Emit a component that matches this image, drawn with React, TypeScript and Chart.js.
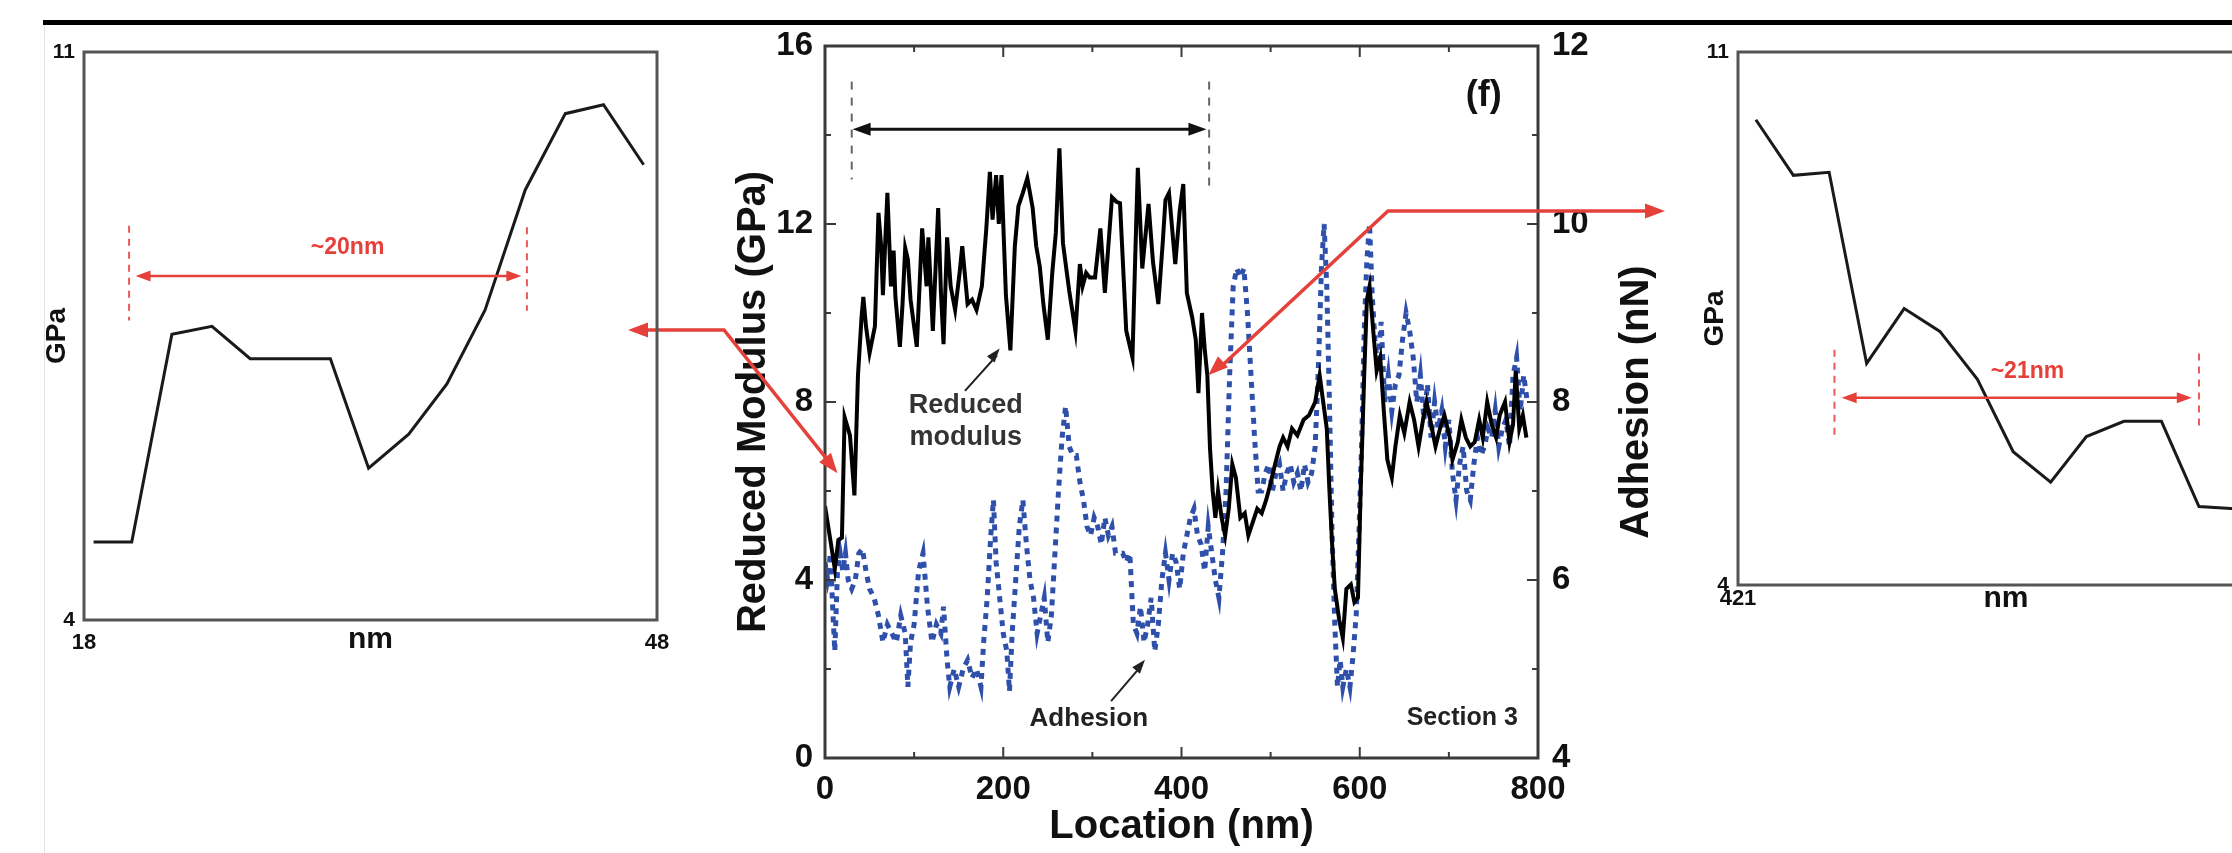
import React, { useEffect, useRef } from 'react';
import { Chart, registerables } from 'chart.js';

Chart.register(...registerables);

const FONT = '"Liberation Sans", Arial, Helvetica, sans-serif';
Chart.defaults.font.family = FONT;

// ---------------- Main chart data (Section 3) ----------------
const modulusX = [
  0, 6, 11, 15, 19, 22, 28, 33, 37, 41,
  43, 46, 50, 56, 60, 63, 65, 70, 74, 77,
  79, 84, 87, 90, 93, 96, 103, 109, 114, 116,
  121, 127, 130, 133, 137, 141, 146, 151, 154, 160,
  165, 170, 176, 181, 185, 188, 192, 195, 198, 203,
  208, 213, 217, 222, 227, 233, 237, 241, 245, 250,
  255, 259, 263, 267, 274, 281, 286, 289, 293, 297,
  303, 309, 314, 322, 327, 331, 338, 345, 348, 351,
  356, 363, 368, 374, 379, 382, 386, 393, 398, 402,
  406, 412, 416, 419, 423, 426, 429, 432, 435, 438,
  441, 445, 449, 453, 457, 461, 466,
  471, 475, 480, 485, 490, 495, 499, 505, 510, 514,
  519, 524, 530, 537, 543, 550, 555, 559, 563, 566,
  569, 572, 577, 581, 585, 590, 594, 598, 601, 605,
  608, 611, 616, 619, 623, 627, 631, 636, 640, 645,
  650, 656, 661, 666, 671, 675, 680, 685, 690, 695,
  701, 704, 710, 714, 719, 724, 729, 734, 738, 743,
  748, 753, 757, 763, 768, 772, 775, 779, 783, 787,
];
const modulusGPa = [
  5.66, 4.9, 4.25, 4.9, 4.95, 7.66, 7.25, 5.9, 8.6, 9.9,
  10.36, 9.7, 9.1, 9.7, 12.25, 11.5, 10.4, 12.7, 10.6, 11.4,
  10.36, 9.24, 10.2, 11.46, 11.2, 10.3, 9.24, 11.9, 10.6, 11.7,
  9.6, 12.36, 10.5, 9.3, 11.7, 10.6, 10.07, 10.9, 11.5, 10.2,
  10.3, 10.07, 10.6, 11.9, 13.17, 12.1, 13.1, 12.0, 13.1, 10.4,
  9.16, 11.5, 12.4, 12.7, 13.03, 12.36, 11.5, 11.04, 10.2, 9.4,
  10.9, 11.8, 13.7, 11.57, 10.5, 9.6, 11.1, 10.6, 10.9, 10.8,
  10.8, 11.9, 10.45, 12.6, 12.5, 12.47, 9.6, 9.0, 11.2, 13.26,
  11.0, 12.45, 11.15, 10.2, 11.6, 12.54, 12.7, 11.1, 12.3, 12.9,
  10.45, 9.9, 9.4, 8.2, 10.0, 9.2, 8.6, 6.95, 6.0, 5.4,
  6.0, 5.4, 5.0, 5.6, 6.6, 6.3, 5.4,
  5.5, 5.0, 5.3, 5.6, 5.5, 5.8, 6.1, 6.6, 7.0, 7.2,
  7.0, 7.4, 7.25, 7.6, 7.7, 8.0, 8.6, 8.0, 7.4, 6.0,
  4.8, 3.8, 3.1, 2.7, 3.8, 3.9, 3.5, 3.6, 6.0, 8.6,
  10.3, 10.6, 9.4, 8.7, 9.0, 7.8, 6.7, 6.3, 7.0, 7.7,
  7.3, 8.0, 7.6, 7.0, 7.6, 8.0, 7.5, 7.0, 7.4, 7.7,
  7.2, 6.7, 7.1, 7.6, 7.2, 7.0, 7.1, 7.6, 7.2, 8.0,
  7.5, 7.2, 7.7, 8.0, 7.1, 7.5, 8.7, 7.4, 7.7, 7.2,
];

const adhesionX = [
  0, 3, 6, 9, 11, 14, 17, 20, 23, 26,
  30, 34, 38, 42, 46, 50,
  55, 60, 65, 70, 75, 80,
  85, 90, 93, 96,
  100, 105, 110, 115, 120,
  125, 130, 133, 137, 140,
  145, 150, 155, 160, 165, 170, 175,
  178, 182, 186, 189, 192,
  196, 200, 204, 207, 210,
  214, 218, 222, 226, 230,
  234, 238, 242, 246, 250,
  254, 258, 262, 266, 270,
  274, 278, 282, 286, 290,
  294, 298, 302, 306, 310, 314, 318, 322,
  326, 330, 334, 338, 342,
  346, 350, 354, 358, 362, 366, 370, 374, 378,
  382, 386, 390, 394, 398, 402, 406, 410,
  414, 418, 422, 426, 430, 434, 438, 442,
  446, 450, 454, 458, 462,
  466, 470, 474, 478, 482, 486,
  490, 494, 498, 502, 506, 510, 514, 518, 522, 526, 530, 534, 538, 542, 546,
  550, 554, 557, 560, 563, 566, 569,
  572, 575, 578, 581, 585, 589, 592, 596, 599,
  602, 605, 608, 611, 614,
  617, 620, 624, 628, 632, 636, 640,
  644, 648, 652, 656, 660,
  664, 668, 672, 676, 680, 684, 688, 692, 696, 700,
  704, 708, 712, 716, 720, 724, 728, 732, 736, 740, 744,
  748, 752, 756, 760, 764, 768, 772, 776, 780, 784, 788,
];
const adhesionNN = [
  6.2, 6.0, 6.3, 5.6, 5.2, 6.1, 6.3, 6.1, 6.3, 6.0,
  5.9, 6.0, 6.3, 6.35, 6.1, 5.9,
  5.8, 5.6, 5.3, 5.5, 5.4, 5.3,
  5.6, 5.4, 4.8, 5.3,
  5.5, 6.1, 6.3, 5.7, 5.3,
  5.5, 5.4, 5.7, 5.1, 4.8,
  5.0, 4.8, 5.0, 5.1, 4.9, 5.0, 4.8,
  5.3, 5.8, 6.5, 6.9, 6.2,
  5.8, 5.4, 5.2, 4.75, 5.4,
  6.0, 6.6, 6.9, 6.4, 6.0,
  5.8, 5.4, 5.6, 5.8, 5.3,
  5.6, 6.3, 7.0, 7.6, 7.95,
  7.5, 7.4, 7.4, 7.1, 6.9,
  6.6, 6.5, 6.7, 6.6, 6.4, 6.7, 6.5, 6.6,
  6.3, 6.3, 6.3, 6.2, 6.3,
  5.5, 5.4, 5.7, 5.3, 5.5, 5.8, 5.2, 5.5, 6.0,
  6.3, 6.0, 6.3, 6.2, 5.9, 6.3, 6.5, 6.7,
  6.8, 6.5, 6.4, 6.1, 6.6, 6.3, 6.0, 5.8,
  6.3, 7.0, 8.3, 9.3, 9.5,
  9.4, 9.5, 9.0, 8.3, 7.6, 7.0,
  7.0, 7.2, 7.3, 7.0, 7.2, 7.3, 7.0, 7.2, 7.3, 7.1, 7.2, 7.0, 7.3, 7.1, 7.2,
  7.5, 8.5, 9.5, 10.0, 9.3, 8.0, 6.5,
  5.5, 4.8, 5.1, 4.8, 5.0, 4.8, 5.1, 5.6, 6.5,
  7.5, 8.8, 9.6, 10.0, 9.2,
  8.7, 8.4, 8.9, 8.0, 8.3, 7.9, 8.2,
  8.3, 8.7, 9.0, 8.8, 8.5,
  8.0, 8.3, 7.8, 8.2, 7.6, 8.0, 7.7, 7.9, 7.5, 7.8,
  7.2, 6.9, 7.3, 7.5, 7.0, 6.9, 7.3, 7.6, 7.4, 7.5, 7.7,
  7.6, 7.9, 7.5, 7.7, 7.8, 7.5, 8.3, 8.5, 7.9, 8.3, 8.0,
];

const xMajorTicks = [0, 200, 400, 600, 800];
const xMinorTicks = [100, 300, 500, 700];
const yMajorTicks = [0, 4, 8, 12, 16];
const yMinorTicks = [2, 6, 10, 14];
const y1MajorTicks = [4, 6, 8, 10, 12];
const y1MinorTicks = [5, 7, 9, 11];

// ---------------- Inset data ----------------
const leftInsetNm = [18.5, 20.5, 22.6, 24.7, 26.7, 28.8, 30.9, 32.9, 35.0, 37.0, 39.0, 41.1, 43.2, 45.2, 47.3];
const leftInsetGPa = [4.96, 4.96, 7.52, 7.62, 7.22, 7.22, 7.22, 5.87, 6.29, 6.91, 7.82, 9.30, 10.24, 10.35, 9.61];
const leftInsetTicksX = [18, 48];
const insetTicksY = [4, 11];

const rightInsetNm = [422.0, 424.1, 426.1, 428.2, 430.3, 432.3, 434.4, 436.4, 438.5, 440.5, 442.6, 444.7, 446.8, 448.8, 450.9];
const rightInsetGPa = [10.11, 9.38, 9.42, 6.91, 7.63, 7.33, 6.70, 5.75, 5.35, 5.95, 6.15, 6.15, 5.03, 5.0, 5.0];
const rightInsetTicksX = [421, 451];

// ---------------- Annotations ----------------
const RED = '#e5403a';
const leftSpan = { x1: 20.36, y1a: 7.69, y1b: 8.86, x2: 41.19, y2a: 7.81, y2b: 8.84, arrowY: 8.24, from: 20.7, to: 40.9, label: '~20nm', lx: 31.8, ly: 8.59 };
const rightSpan = { x1: 426.4, y1a: 5.91, y1b: 7.09, x2: 446.8, y2a: 6.02, y2b: 7.04, arrowY: 6.46, from: 426.8, to: 446.4, label: '~21nm', lx: 437.2, ly: 6.8 };

function arrowHead(ctx: CanvasRenderingContext2D, fx: number, fy: number, tx: number, ty: number, len: number, wid: number, color: string) {
  const a = Math.atan2(ty - fy, tx - fx);
  const bx = tx - len * Math.cos(a);
  const by = ty - len * Math.sin(a);
  ctx.save();
  ctx.fillStyle = color;
  ctx.beginPath();
  ctx.moveTo(tx, ty);
  ctx.lineTo(bx + (wid / 2) * Math.sin(a), by - (wid / 2) * Math.cos(a));
  ctx.lineTo(bx - (wid / 2) * Math.sin(a), by + (wid / 2) * Math.cos(a));
  ctx.closePath();
  ctx.fill();
  ctx.restore();
}

function segment(ctx: CanvasRenderingContext2D, pts: number[][], color: string, width: number, dash: number[] = []) {
  ctx.save();
  ctx.strokeStyle = color;
  ctx.lineWidth = width;
  ctx.setLineDash(dash);
  ctx.lineJoin = 'miter';
  ctx.beginPath();
  ctx.moveTo(pts[0][0], pts[0][1]);
  for (let i = 1; i < pts.length; i++) ctx.lineTo(pts[i][0], pts[i][1]);
  ctx.stroke();
  ctx.restore();
}

function text(ctx: CanvasRenderingContext2D, s: string, x: number, y: number, size: number, color: string, align: CanvasTextAlign = 'center', rot = 0) {
  ctx.save();
  ctx.font = `bold ${size}px ${FONT}`;
  ctx.fillStyle = color;
  ctx.textAlign = align;
  ctx.textBaseline = 'middle';
  ctx.translate(x, y);
  if (rot) ctx.rotate(rot);
  ctx.fillText(s, 0, 0);
  ctx.restore();
}

const mainDecor = {
  id: 'mainDecor',
  beforeDraw(chart: any) {
    const { ctx, width, height } = chart;
    ctx.save();
    ctx.fillStyle = '#ffffff';
    ctx.fillRect(0, 0, width, height);
    ctx.fillStyle = '#e4e4e4';
    ctx.fillRect(44, 25, 1, height - 25);
    ctx.fillStyle = '#000000';
    ctx.fillRect(43, 20, width - 43, 5);
    ctx.restore();
  },
  afterDatasetsDraw(chart: any) {
    const { ctx, chartArea: a, scales } = chart;
    const sx = scales.x, sy = scales.y, sy1 = scales.y1;
    ctx.save();
    ctx.strokeStyle = '#3a3a3a';
    ctx.lineWidth = 3;
    ctx.strokeRect(a.left, a.top, a.right - a.left, a.bottom - a.top);
    ctx.lineWidth = 2;
    ctx.beginPath();
    const tick = (v: number, len: number) => {
      const p = sx.getPixelForValue(v);
      ctx.moveTo(p, a.bottom); ctx.lineTo(p, a.bottom - len);
      ctx.moveTo(p, a.top); ctx.lineTo(p, a.top + len);
    };
    xMajorTicks.forEach(v => tick(v, 11));
    xMinorTicks.forEach(v => tick(v, 6));
    yMajorTicks.forEach(v => { const p = sy.getPixelForValue(v); ctx.moveTo(a.left, p); ctx.lineTo(a.left + 11, p); });
    yMinorTicks.forEach(v => { const p = sy.getPixelForValue(v); ctx.moveTo(a.left, p); ctx.lineTo(a.left + 6, p); });
    y1MajorTicks.forEach(v => { const p = sy1.getPixelForValue(v); ctx.moveTo(a.right, p); ctx.lineTo(a.right - 11, p); });
    y1MinorTicks.forEach(v => { const p = sy1.getPixelForValue(v); ctx.moveTo(a.right, p); ctx.lineTo(a.right - 6, p); });
    ctx.stroke();
    ctx.restore();

    const X = (v: number) => sx.getPixelForValue(v);
    const Y = (v: number) => sy.getPixelForValue(v);

    // dashed span markers and double arrow
    segment(ctx, [[X(30), Y(15.2)], [X(30), Y(13.0)]], '#666', 2, [8, 8]);
    segment(ctx, [[X(431), Y(15.2)], [X(431), Y(12.8)]], '#666', 2, [8, 8]);
    segment(ctx, [[X(31) + 12, Y(14.13)], [X(428) - 12, Y(14.13)]], '#111', 3);
    arrowHead(ctx, X(200), Y(14.13), X(31), Y(14.13), 18, 13, '#111');
    arrowHead(ctx, X(200), Y(14.13), X(428), Y(14.13), 18, 13, '#111');

    text(ctx, '(f)', X(739), Y(14.88), 36, '#111');
    text(ctx, 'Reduced', X(158), Y(7.91), 27, '#333');
    text(ctx, 'modulus', X(158), Y(7.19), 27, '#333');
    segment(ctx, [[X(157), Y(8.25)], [X(193), Y(9.05)]], '#222', 2);
    arrowHead(ctx, X(157), Y(8.25), X(196), Y(9.2), 14, 10, '#222');
    text(ctx, 'Adhesion', X(296), Y(0.88), 26, '#222');
    segment(ctx, [[X(321), Y(1.28)], [X(356), Y(2.1)]], '#222', 2);
    arrowHead(ctx, X(321), Y(1.28), X(359), Y(2.21), 14, 10, '#222');
    text(ctx, 'Section 3', X(715), Y(0.9), 25, '#222');

    // right axis title (reads bottom-to-top)
    text(ctx, 'Adhesion (nN)', 1637, (a.top + a.bottom) / 2, 40, '#111', 'center', -Math.PI / 2);
  },
  afterDraw(chart: any) {
    const { ctx, scales } = chart;
    const X = (v: number) => scales.x.getPixelForValue(v);
    const Y = (v: number) => scales.y.getPixelForValue(v);
    // connector to left inset
    const l2 = [X(14), Y(6.4)];
    segment(ctx, [[645, 330], [724, 330], [l2[0] - 9, l2[1] - 12]], RED, 3.5);
    arrowHead(ctx, 724, 330, 628, 330, 20, 15, RED);
    arrowHead(ctx, 724, 330, l2[0], l2[1], 20, 15, RED);
    // connector to right inset
    const r0 = [X(430), Y(8.6)];
    segment(ctx, [[r0[0] + 12, r0[1] - 8], [1388, 211], [1648, 211]], RED, 3.5);
    arrowHead(ctx, 1388, 211, r0[0], r0[1], 20, 15, RED);
    arrowHead(ctx, 1388, 211, 1665, 211, 20, 15, RED);
  },
};

function insetDecor(span: typeof leftSpan) {
  return {
    id: 'insetDecor',
    afterDatasetsDraw(chart: any) {
      const { ctx, chartArea: a, scales } = chart;
      const X = (v: number) => scales.x.getPixelForValue(v);
      const Y = (v: number) => scales.y.getPixelForValue(v);
      ctx.save();
      ctx.strokeStyle = '#555';
      ctx.lineWidth = 3;
      ctx.strokeRect(a.left, a.top, a.right - a.left, a.bottom - a.top);
      ctx.restore();
      segment(ctx, [[X(span.x1), Y(span.y1b)], [X(span.x1), Y(span.y1a)]], '#ea5a5a', 2, [7, 6]);
      segment(ctx, [[X(span.x2), Y(span.y2b)], [X(span.x2), Y(span.y2a)]], '#ea5a5a', 2, [7, 6]);
      segment(ctx, [[X(span.from) + 10, Y(span.arrowY)], [X(span.to) - 10, Y(span.arrowY)]], RED, 2.5);
      const mid = (X(span.from) + X(span.to)) / 2;
      arrowHead(ctx, mid, Y(span.arrowY), X(span.from), Y(span.arrowY), 15, 11, RED);
      arrowHead(ctx, mid, Y(span.arrowY), X(span.to), Y(span.arrowY), 15, 11, RED);
      text(ctx, span.label, X(span.lx), Y(span.ly), 23, RED);
    },
  };
}

function insetConfig(nm: number[], gpa: number[], xMin: number, xMax: number, xTicks: number[], span: typeof leftSpan, pad: any, xPad: number, titleXPad: number, yWidth: number, yTitlePad: number) {
  return {
    type: 'line' as const,
    data: {
      datasets: [{
        data: nm.map((x, i) => ({ x, y: gpa[i] })),
        borderColor: '#1a1a1a',
        borderWidth: 3,
        pointRadius: 0,
        tension: 0,
      }],
    },
    options: {
      responsive: false,
      animation: false as const,
      devicePixelRatio: 1,
      layout: { padding: pad },
      plugins: { legend: { display: false }, tooltip: { enabled: false } },
      scales: {
        x: {
          type: 'linear' as const, min: xMin, max: xMax,
          afterFit: (s: any) => { s.height = 45; },
          afterBuildTicks: (s: any) => { s.ticks = xTicks.map(value => ({ value })); },
          grid: { display: false, drawTicks: false },
          border: { display: false },
          ticks: { padding: xPad, color: '#111', font: { size: 22, weight: 'bold' as const }, maxRotation: 0, callback: (v: any) => String(v) },
          title: { display: true, text: 'nm', color: '#111', font: { size: 30, weight: 'bold' as const }, padding: { top: 0, bottom: titleXPad } },
        },
        y: {
          type: 'linear' as const, min: 4, max: 11,
          afterFit: (s: any) => { s.width = yWidth; },
          afterBuildTicks: (s: any) => { s.ticks = insetTicksY.map(value => ({ value })); },
          grid: { display: false, drawTicks: false },
          border: { display: false },
          ticks: { padding: 9, color: '#111', font: { size: 21, weight: 'bold' as const } },
          title: { display: true, text: 'GPa', color: '#111', font: { size: 28, weight: 'bold' as const }, padding: { top: yTitlePad, bottom: 0 } },
        },
      },
    },
    plugins: [insetDecor(span)],
  };
}

function mainConfig() {
  return {
    type: 'line' as const,
    data: {
      datasets: [
        {
          label: 'Reduced modulus',
          data: modulusX.map((x, i) => ({ x, y: modulusGPa[i] })),
          borderColor: '#000000',
          borderWidth: 4,
          pointRadius: 0,
          tension: 0,
          yAxisID: 'y',
        },
        {
          label: 'Adhesion',
          data: adhesionX.map((x, i) => ({ x, y: adhesionNN[i] })),
          borderColor: '#2f50aa',
          borderWidth: 5,
          borderDash: [6, 6],
          pointRadius: 0,
          tension: 0,
          yAxisID: 'y1',
        },
      ],
    },
    options: {
      responsive: false,
      animation: false as const,
      devicePixelRatio: 1,
      layout: { padding: { left: 700, right: 532, top: 46, bottom: 0 } },
      plugins: { legend: { display: false }, tooltip: { enabled: false } },
      scales: {
        x: {
          type: 'linear' as const, min: 0, max: 800,
          afterFit: (s: any) => { s.height = 95; },
          grid: { display: false, drawTicks: false },
          border: { display: false },
          ticks: { stepSize: 200, padding: 12, color: '#111', font: { size: 33, weight: 'bold' as const }, maxRotation: 0 },
          title: { display: true, text: 'Location (nm)', color: '#111', font: { size: 40, weight: 'bold' as const }, padding: { top: 0, bottom: 2 } },
        },
        y: {
          type: 'linear' as const, position: 'left' as const, min: 0, max: 16,
          afterFit: (s: any) => { s.width = 125; },
          grid: { display: false, drawTicks: false },
          border: { display: false },
          ticks: { stepSize: 4, padding: 12, color: '#111', font: { size: 33, weight: 'bold' as const } },
          title: { display: true, text: 'Reduced Modulus (GPa)', color: '#111', font: { size: 40, weight: 'bold' as const }, padding: { top: 30, bottom: 0 } },
        },
        y1: {
          type: 'linear' as const, position: 'right' as const, min: 4, max: 12,
          afterFit: (s: any) => { s.width = 162; },
          grid: { display: false, drawTicks: false },
          border: { display: false },
          ticks: { stepSize: 2, padding: 14, color: '#111', font: { size: 33, weight: 'bold' as const } },
          title: { display: false, text: 'Adhesion (nN)' },
        },
      },
    },
    plugins: [mainDecor],
  };
}

export default function App() {
  const mainRef = useRef<HTMLCanvasElement>(null);
  const leftRef = useRef<HTMLCanvasElement>(null);
  const rightRef = useRef<HTMLCanvasElement>(null);

  useEffect(() => {
    const charts: Chart[] = [];
    charts.push(new Chart(mainRef.current as HTMLCanvasElement, mainConfig() as any));
    charts.push(new Chart(leftRef.current as HTMLCanvasElement, insetConfig(
      leftInsetNm, leftInsetGPa, 18, 48, leftInsetTicksX, leftSpan,
      { left: 30, top: 52, right: 63, bottom: 35 }, 10, 7, 54, 10) as any));
    charts.push(new Chart(rightRef.current as HTMLCanvasElement, insetConfig(
      rightInsetNm, rightInsetGPa, 421, 451, rightInsetTicksX, rightSpan,
      { left: 5, top: 52, right: 26, bottom: 70 }, 1, 13, 53, 13) as any));
    return () => charts.forEach(c => c.destroy());
  }, []);

  return (
    <div style={{ position: 'fixed', left: 0, top: 0, width: 2232, height: 853, overflow: 'hidden', background: '#ffffff' }}>
      <canvas ref={mainRef} width={2232} height={853} style={{ position: 'absolute', left: 0, top: 0, width: 2232, height: 853 }} />
      <canvas ref={leftRef} width={720} height={700} style={{ position: 'absolute', left: 0, top: 0, width: 720, height: 700 }} />
      <canvas ref={rightRef} width={620} height={700} style={{ position: 'absolute', left: 1680, top: 0, width: 620, height: 700 }} />
    </div>
  );
}
